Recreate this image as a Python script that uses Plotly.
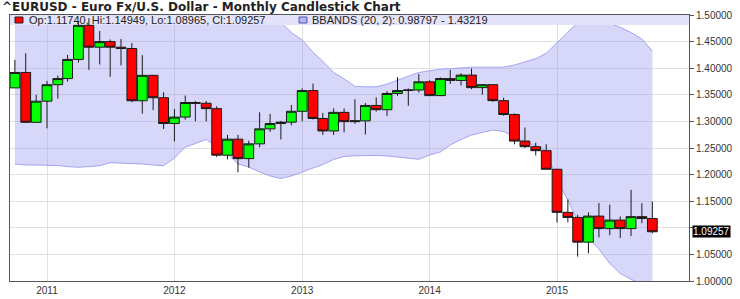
import plotly.graph_objects as go
import pandas as pd

# ---------------- data ----------------
months = pd.date_range("2010-10-01", "2015-10-01", freq="MS").strftime("%Y-%m-%d").tolist()

opens = [1.3630, 1.3920, 1.2983, 1.3380, 1.3690, 1.3805, 1.4165, 1.4805, 1.4395, 1.4500, 1.4395, 1.4370,
         1.3388, 1.3866, 1.3445, 1.2961, 1.3081, 1.3355, 1.3341, 1.3240, 1.2365, 1.2666, 1.2300, 1.2578,
         1.2860, 1.2960, 1.2985, 1.3190, 1.3580, 1.3055, 1.2820, 1.3170, 1.2995, 1.3010, 1.3300, 1.3220,
         1.3525, 1.3580, 1.3590, 1.3745, 1.3485, 1.3805, 1.3770, 1.3870, 1.3635, 1.3690, 1.3390, 1.3130,
         1.2630, 1.2525, 1.2450, 1.2100, 1.1290, 1.1195, 1.0730, 1.1220, 1.0985, 1.1145, 1.0985, 1.1210,
         1.11740]
highs = [1.4157, 1.4282, 1.3500, 1.3760, 1.3862, 1.4250, 1.4880, 1.4940, 1.4700, 1.4540, 1.4549, 1.4472,
         1.4246, 1.3873, 1.3548, 1.3233, 1.3486, 1.3385, 1.3383, 1.3283, 1.2747, 1.2746, 1.2637, 1.3171,
         1.3140, 1.3010, 1.3308, 1.3620, 1.3711, 1.3160, 1.3242, 1.3242, 1.3417, 1.3345, 1.3452, 1.3568,
         1.3832, 1.3620, 1.3893, 1.3775, 1.3825, 1.3967, 1.3905, 1.3995, 1.3700, 1.3700, 1.3445, 1.3150,
         1.2885, 1.2600, 1.2570, 1.2110, 1.1534, 1.1243, 1.1290, 1.1466, 1.1436, 1.1215, 1.1713, 1.1460,
         1.14949]
lows = [1.3630, 1.2969, 1.2970, 1.2870, 1.3430, 1.3750, 1.4105, 1.3968, 1.4070, 1.3837, 1.4052, 1.3362,
        1.3145, 1.3212, 1.2858, 1.2624, 1.3030, 1.3003, 1.3000, 1.2332, 1.2287, 1.2042, 1.2130, 1.2516,
        1.2802, 1.2660, 1.2925, 1.3000, 1.3035, 1.2746, 1.2745, 1.2795, 1.2955, 1.2755, 1.3185, 1.3105,
        1.3480, 1.3295, 1.3545, 1.3480, 1.3475, 1.3705, 1.3673, 1.3605, 1.3502, 1.3367, 1.3105, 1.2570,
        1.2500, 1.2360, 1.2100, 1.1098, 1.1104, 1.0458, 1.0520, 1.0820, 1.0860, 1.0808, 1.0845, 1.1087,
        1.08965]
closes = [1.3920, 1.2983, 1.3380, 1.3690, 1.3805, 1.4165, 1.4805, 1.4395, 1.4500, 1.4395, 1.4370, 1.3388,
          1.3866, 1.3445, 1.2961, 1.3081, 1.3355, 1.3341, 1.3240, 1.2365, 1.2666, 1.2300, 1.2578, 1.2860,
          1.2960, 1.2985, 1.3190, 1.3580, 1.3055, 1.2820, 1.3170, 1.2995, 1.3010, 1.3300, 1.3220, 1.3525,
          1.3580, 1.3590, 1.3745, 1.3485, 1.3805, 1.3770, 1.3870, 1.3635, 1.3690, 1.3390, 1.3130, 1.2630,
          1.2525, 1.2450, 1.2100, 1.1290, 1.1195, 1.0730, 1.1220, 1.0985, 1.1145, 1.0985, 1.1210, 1.1175,
          1.09257]

bb_upper = [1.53, 1.53, 1.52, 1.52, 1.52, 1.53, 1.55, 1.56, 1.56, 1.56, 1.56, 1.55,
            1.55, 1.55, 1.56, 1.56, 1.56, 1.57, 1.57, 1.57, 1.56, 1.55, 1.54, 1.52,
            1.502, 1.486, 1.467, 1.453, 1.430, 1.413, 1.392, 1.380, 1.366, 1.365, 1.365, 1.370,
            1.378, 1.385, 1.392, 1.395, 1.398, 1.399, 1.401, 1.402, 1.402, 1.402, 1.402, 1.406,
            1.412, 1.418, 1.428, 1.449, 1.468, 1.485, 1.489, 1.489, 1.484, 1.477, 1.467, 1.455,
            1.43219]
bb_lower = [1.2199, 1.218, 1.218, 1.218, 1.217, 1.215, 1.2137, 1.215, 1.2167, 1.2224, 1.2218, 1.2212,
            1.220, 1.218, 1.2167, 1.2312, 1.2519, 1.2585, 1.266, 1.2528, 1.2387, 1.220, 1.2143, 1.2049,
            1.1974, 1.1927, 1.1974, 1.2049, 1.2124, 1.219, 1.2284, 1.234, 1.2353, 1.2363, 1.236, 1.235,
            1.2331, 1.2312, 1.2288, 1.2368, 1.2425, 1.2556, 1.266, 1.2744, 1.2791, 1.2838, 1.281, 1.2707,
            1.2613, 1.2538, 1.2444, 1.19, 1.152, 1.113, 1.080, 1.060, 1.033, 1.014, 1.003, 0.995,
            0.98797]

year_ticks = ["2011-01-01", "2012-01-01", "2013-01-01", "2014-01-01", "2015-01-01"]
year_labels = ["2011", "2012", "2013", "2014", "2015"]
price_ticks = [1.00, 1.05, 1.10, 1.15, 1.20, 1.25, 1.30, 1.35, 1.40, 1.45, 1.50]
price_labels = ["1.00000", "1.05000", "", "1.15000", "1.20000", "1.25000",
                "1.30000", "1.35000", "1.40000", "1.45000", "1.50000"]

title_text = "^EURUSD - Euro Fx/U.S. Dollar - Monthly Candlestick Chart"
ohlc_text = "Op:1.11740, Hi:1.14949, Lo:1.08965, Cl:1.09257"
bb_text = "BBANDS (20, 2): 0.98797 - 1.43219"
last_text = "1.09257"
last_price = 1.09257

# ---------------- layout constants ----------------
W, H = 740, 299
ML, MR, MT, MB = 10, 51, 15, 18
PW, PH = W - ML - MR, H - MT - MB
X_RANGE = ["2010-09-17", "2016-01-14"]
Y_RANGE = [1.0, 1.5]
FONT = "Liberation Sans, Arial, sans-serif"
TITLE_FONT = "DejaVu Sans, Verdana, sans-serif"
STRIP_PX = 10


def px_x(p):
    return (p - ML) / PW


def px_y(p):
    return (H - MB - p) / PH


fig = go.Figure()

# Bollinger band (main axes, drawn below candles)
fig.add_trace(go.Scatter(x=months, y=bb_upper, mode="lines",
                         line=dict(color="rgba(150,150,240,0.85)", width=1),
                         hoverinfo="skip", showlegend=False))
fig.add_trace(go.Scatter(x=months, y=bb_lower, mode="lines", fill="tonexty",
                         fillcolor="rgba(150,150,240,0.38)",
                         line=dict(color="rgba(150,150,240,0.85)", width=1),
                         hoverinfo="skip", showlegend=False))

# info strip (top of plot)
strip_h = (Y_RANGE[1] - Y_RANGE[0]) * STRIP_PX / PH
fig.add_trace(go.Scatter(x=[X_RANGE[0], X_RANGE[1], X_RANGE[1], X_RANGE[0], X_RANGE[0]],
                         y=[Y_RANGE[1], Y_RANGE[1], Y_RANGE[1] - strip_h, Y_RANGE[1] - strip_h, Y_RANGE[1]],
                         mode="lines", fill="toself", fillcolor="#e3e3f9",
                         line=dict(width=0), hoverinfo="skip", showlegend=False))

# candles on overlaying axes so they sit above the band
fig.add_trace(go.Candlestick(x=months, open=opens, high=highs, low=lows, close=closes,
                             xaxis="x2", yaxis="y2",
                             increasing=dict(fillcolor="#00ff00", line=dict(color="#1a1a1a", width=1)),
                             decreasing=dict(fillcolor="#ff0000", line=dict(color="#1a1a1a", width=1)),
                             whiskerwidth=0, showlegend=False))

axis_line = "#555555"
grid = "#e0e0e0"
fig.update_layout(
    width=W, height=H,
    margin=dict(l=ML, r=MR, t=MT, b=MB, autoexpand=False),
    paper_bgcolor="white", plot_bgcolor="white",
    boxgap=0.0, boxgroupgap=0.0,
    font=dict(family=FONT, size=10, color="#333333"),
    title=dict(text="<b>" + title_text + "</b>", x=2 / W, xanchor="left",
               y=1 - 7 / H, yanchor="middle", automargin=False,
               font=dict(family=TITLE_FONT, size=12, color="#222222")),
    xaxis=dict(type="date", range=X_RANGE, tickvals=year_ticks, ticktext=year_labels,
               showgrid=True, gridcolor=grid, gridwidth=1, showline=True, linecolor=axis_line,
               linewidth=1, mirror=True, ticks="", zeroline=False, ticklabelstandoff=0,
               automargin=False,
               rangeslider=dict(visible=False), tickfont=dict(size=10, color="#333333")),
    yaxis=dict(range=Y_RANGE, side="right", tickvals=price_ticks, ticktext=price_labels,
               showgrid=True, gridcolor=grid, gridwidth=1, showline=True, linecolor=axis_line,
               linewidth=1, mirror=True, ticks="outside", ticklen=4, tickcolor=axis_line,
               zeroline=False, automargin=False, tickfont=dict(size=10, color="#333333")),
    xaxis2=dict(type="date", range=X_RANGE, overlaying="x", visible=False, automargin=False,
                rangeslider=dict(visible=False)),
    yaxis2=dict(range=Y_RANGE, overlaying="y", side="right", visible=False, automargin=False),
    showlegend=False,
)

strip_mid = px_y(MT + STRIP_PX / 2)
fig.add_annotation(xref="paper", yref="paper", x=px_x(27), y=strip_mid, xanchor="left",
                   yanchor="middle", text=ohlc_text, showarrow=False,
                   font=dict(family=FONT, size=11, color="#222222"))
fig.add_annotation(xref="paper", yref="paper", x=px_x(310), y=strip_mid, xanchor="left",
                   yanchor="middle", text=bb_text, showarrow=False,
                   font=dict(family=FONT, size=11, color="#222222"))
fig.add_shape(type="rect", xref="paper", yref="paper", x0=px_x(15), x1=px_x(23),
              y0=px_y(MT + 8), y1=px_y(MT + 2), fillcolor="#ff0000",
              line=dict(color="#222222", width=1), layer="above")
fig.add_shape(type="rect", xref="paper", yref="paper", x0=px_x(299), x1=px_x(307),
              y0=px_y(MT + 8), y1=px_y(MT + 2), fillcolor="#b4b4f2",
              line=dict(color="#5555aa", width=1), layer="above")

# last price box
fig.add_annotation(xref="paper", yref="y", x=1, y=last_price, xanchor="left", yanchor="middle",
                   xshift=3, text=last_text, showarrow=False, bgcolor="#000000",
                   borderpad=0, font=dict(family=FONT, size=10, color="#ffffff"))

fig.write_html("out.html")
